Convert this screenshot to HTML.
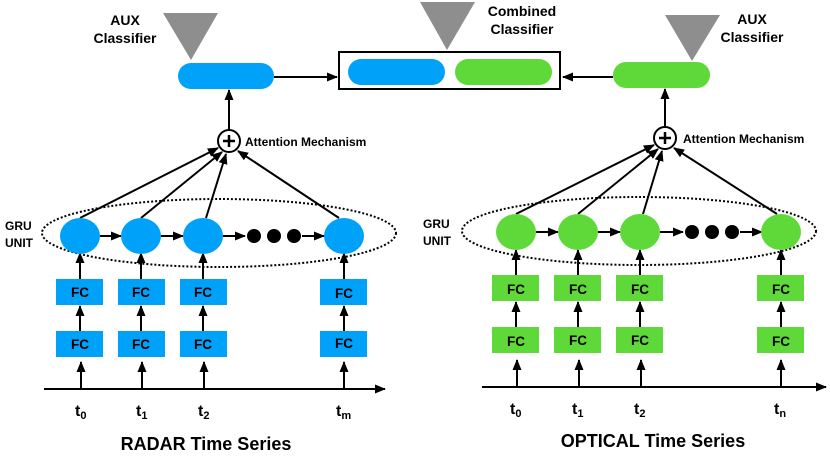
<!DOCTYPE html>
<html><head><meta charset="utf-8"><style>
html,body{margin:0;padding:0;background:#fff;}
svg{display:block;}
text{font-family:"Liberation Sans",Arial,sans-serif;font-weight:bold;fill:#000;}
</style></head><body>
<svg width="830" height="459" viewBox="0 0 830 459" xmlns="http://www.w3.org/2000/svg">
<defs>
<marker id="a" markerWidth="11" markerHeight="9" refX="10" refY="4.5" orient="auto" markerUnits="userSpaceOnUse">
<path d="M0,0 L11,4.5 L0,9 z" fill="#000"/></marker>
</defs>
<g stroke="#000" stroke-width="2" fill="none">
<ellipse cx="219" cy="233" rx="177" ry="34" stroke-dasharray="2,2" stroke-width="2"/>
<line x1="44" y1="389" x2="385" y2="389" marker-end="url(#a)"/>
<line x1="81" y1="389" x2="81" y2="362" marker-end="url(#a)"/>
<line x1="142" y1="389" x2="142" y2="362" marker-end="url(#a)"/>
<line x1="204" y1="389" x2="204" y2="362" marker-end="url(#a)"/>
<line x1="344" y1="389" x2="344" y2="362" marker-end="url(#a)"/>
<line x1="80" y1="331" x2="80" y2="306" marker-end="url(#a)"/>
<line x1="141" y1="331" x2="141" y2="306" marker-end="url(#a)"/>
<line x1="203" y1="331" x2="203" y2="306" marker-end="url(#a)"/>
<line x1="344" y1="331" x2="344" y2="306" marker-end="url(#a)"/>
<line x1="80" y1="279" x2="80" y2="253" marker-end="url(#a)"/>
<line x1="141" y1="279" x2="141" y2="253" marker-end="url(#a)"/>
<line x1="203" y1="279" x2="203" y2="253" marker-end="url(#a)"/>
<line x1="344" y1="279" x2="344" y2="253" marker-end="url(#a)"/>
<line x1="100" y1="236" x2="121" y2="236" marker-end="url(#a)"/>
<line x1="161" y1="236" x2="183" y2="236" marker-end="url(#a)"/>
<line x1="223" y1="236" x2="245" y2="236" marker-end="url(#a)"/>
<line x1="302" y1="236" x2="324" y2="236" marker-end="url(#a)"/>
<line x1="80" y1="218" x2="218" y2="148" marker-end="url(#a)"/>
<line x1="141" y1="218" x2="222" y2="152" marker-end="url(#a)"/>
<line x1="206" y1="218" x2="226" y2="154" marker-end="url(#a)"/>
<line x1="339" y1="218" x2="238" y2="151" marker-end="url(#a)"/>
<line x1="229" y1="130" x2="229" y2="90" marker-end="url(#a)"/>
<line x1="274" y1="77" x2="337" y2="77" marker-end="url(#a)"/>
<ellipse cx="639" cy="231" rx="177" ry="34" stroke-dasharray="2,2" stroke-width="2"/>
<line x1="482" y1="387" x2="826" y2="387" marker-end="url(#a)"/>
<line x1="517" y1="387" x2="517" y2="360" marker-end="url(#a)"/>
<line x1="579" y1="387" x2="579" y2="360" marker-end="url(#a)"/>
<line x1="641" y1="387" x2="641" y2="360" marker-end="url(#a)"/>
<line x1="781" y1="387" x2="781" y2="360" marker-end="url(#a)"/>
<line x1="516" y1="327" x2="516" y2="302" marker-end="url(#a)"/>
<line x1="578" y1="327" x2="578" y2="302" marker-end="url(#a)"/>
<line x1="640" y1="327" x2="640" y2="302" marker-end="url(#a)"/>
<line x1="781" y1="327" x2="781" y2="302" marker-end="url(#a)"/>
<line x1="516" y1="275" x2="516" y2="250" marker-end="url(#a)"/>
<line x1="578" y1="275" x2="578" y2="250" marker-end="url(#a)"/>
<line x1="640" y1="275" x2="640" y2="250" marker-end="url(#a)"/>
<line x1="781" y1="275" x2="781" y2="250" marker-end="url(#a)"/>
<line x1="536" y1="232" x2="558" y2="232" marker-end="url(#a)"/>
<line x1="598" y1="232" x2="620" y2="232" marker-end="url(#a)"/>
<line x1="660" y1="232" x2="683" y2="232" marker-end="url(#a)"/>
<line x1="740" y1="232" x2="762" y2="232" marker-end="url(#a)"/>
<line x1="516" y1="214" x2="654" y2="145" marker-end="url(#a)"/>
<line x1="578" y1="214" x2="658" y2="149" marker-end="url(#a)"/>
<line x1="643" y1="214" x2="662" y2="151" marker-end="url(#a)"/>
<line x1="777" y1="214" x2="674" y2="148" marker-end="url(#a)"/>
<line x1="665" y1="127" x2="665" y2="89" marker-end="url(#a)"/>
<line x1="613" y1="77" x2="563" y2="77" marker-end="url(#a)"/>
<rect x="339" y="52" width="221" height="37" stroke-width="2"/>
</g>
<polygon points="163,13 218,13 191,60" fill="#8e8e8e"/>
<polygon points="420,2 475,2 447,50" fill="#8e8e8e"/>
<polygon points="665,15 720,15 692,61" fill="#8e8e8e"/>
<rect x="178" y="63" width="96" height="26" rx="13" fill="#00a2f9"/>
<rect x="348" y="59" width="97" height="26" rx="13" fill="#00a2f9"/>
<rect x="455" y="59" width="97" height="26" rx="13" fill="#5fd93a"/>
<rect x="613" y="62" width="97" height="26" rx="13" fill="#5fd93a"/>
<g fill="#00a2f9">
<ellipse cx="80" cy="236" rx="20" ry="18"/>
<ellipse cx="141" cy="236" rx="20" ry="18"/>
<ellipse cx="203" cy="236" rx="20" ry="18"/>
<ellipse cx="344" cy="236" rx="20" ry="18"/>
<rect x="56" y="279" width="47" height="26"/><rect x="118" y="279" width="47" height="26"/><rect x="180" y="279" width="47" height="26"/><rect x="320" y="279" width="47" height="26"/>
<rect x="56" y="331" width="47" height="26"/><rect x="118" y="331" width="47" height="26"/><rect x="180" y="331" width="47" height="26"/><rect x="320" y="331" width="47" height="26"/>
</g>
<g fill="#5fd93a">
<ellipse cx="516" cy="232" rx="20" ry="18"/>
<ellipse cx="578" cy="232" rx="20" ry="18"/>
<ellipse cx="640" cy="232" rx="20" ry="18"/>
<ellipse cx="781" cy="232" rx="20" ry="18"/>
<rect x="492" y="275" width="47" height="26"/><rect x="554" y="275" width="47" height="26"/><rect x="616" y="275" width="47" height="26"/><rect x="757" y="275" width="47" height="26"/>
<rect x="492" y="327" width="47" height="26"/><rect x="554" y="327" width="47" height="26"/><rect x="616" y="327" width="47" height="26"/><rect x="757" y="327" width="47" height="26"/>
</g>
<g fill="#000">
<circle cx="254" cy="236" r="7"/><circle cx="274" cy="236" r="7"/><circle cx="294" cy="236" r="7"/>
<circle cx="692" cy="232" r="7"/><circle cx="712" cy="232" r="7"/><circle cx="732" cy="232" r="7"/>
</g>
<g stroke="#000" stroke-width="2" fill="#fff">
<circle cx="229" cy="141" r="11"/><circle cx="665" cy="138" r="11"/>
</g>
<g stroke="#000" stroke-width="2.5">
<line x1="223" y1="141" x2="235" y2="141"/><line x1="229" y1="135" x2="229" y2="147"/>
<line x1="659" y1="138" x2="671" y2="138"/><line x1="665" y1="132" x2="665" y2="144"/>
</g>
<g font-size="14" text-anchor="middle">
<text x="125" y="25">AUX</text><text x="125" y="43">Classifier</text>
<text x="522" y="16">Combined</text><text x="522" y="34">Classifier</text>
<text x="752" y="24">AUX</text><text x="752" y="42">Classifier</text>
</g>
<g font-size="12">
<text x="245" y="146">Attention Mechanism</text>
<text x="683" y="143">Attention Mechanism</text>
<text x="5" y="230">GRU</text><text x="5" y="247">UNIT</text>
<text x="423" y="228">GRU</text><text x="423" y="245">UNIT</text>
</g>
<g font-size="13.5" text-anchor="middle">
<text x="80" y="297">FC</text><text x="141" y="297">FC</text><text x="203" y="297">FC</text><text x="344" y="298">FC</text>
<text x="80" y="349">FC</text><text x="141" y="349">FC</text><text x="203" y="349">FC</text><text x="344" y="348">FC</text>
<text x="516" y="294">FC</text><text x="578" y="294">FC</text><text x="640" y="294">FC</text><text x="781" y="294">FC</text>
<text x="516" y="346">FC</text><text x="578" y="345">FC</text><text x="640" y="345">FC</text><text x="781" y="346">FC</text>
</g>
<g font-size="16">
<text x="75" y="416">t<tspan font-size="11" dy="3">0</tspan></text>
<text x="136" y="416">t<tspan font-size="11" dy="3">1</tspan></text>
<text x="198" y="416">t<tspan font-size="11" dy="3">2</tspan></text>
<text x="336" y="416">t<tspan font-size="11" dy="3">m</tspan></text>
<text x="510" y="414">t<tspan font-size="11" dy="3">0</tspan></text>
<text x="572" y="414">t<tspan font-size="11" dy="3">1</tspan></text>
<text x="634" y="414">t<tspan font-size="11" dy="3">2</tspan></text>
<text x="774" y="414">t<tspan font-size="11" dy="3">n</tspan></text>
</g>
<g font-size="18" text-anchor="middle">
<text x="206" y="450">RADAR Time Series</text>
<text x="653" y="447">OPTICAL Time Series</text>
</g>
</svg>
</body></html>
